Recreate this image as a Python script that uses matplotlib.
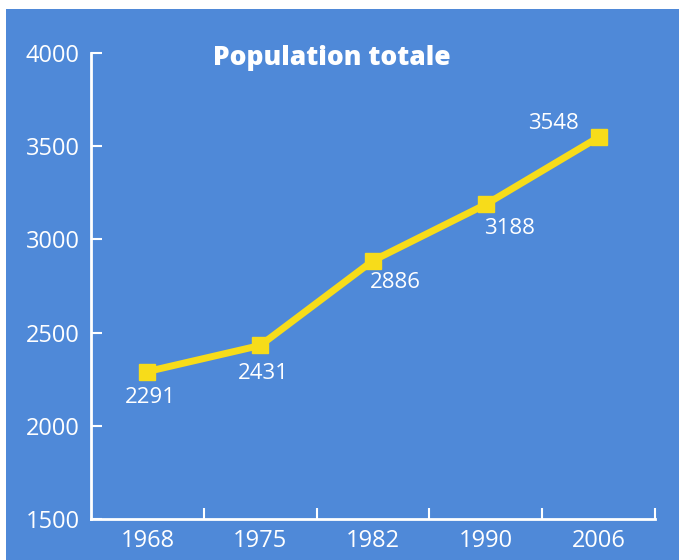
import matplotlib.pyplot as plt
from matplotlib.patches import Rectangle

years = ["1968", "1975", "1982", "1990", "2006"]
population = [2291, 2431, 2886, 3188, 3548]
yticks = [1500, 2000, 2500, 3000, 3500, 4000]
# label offsets in pixels from each marker
label_offsets = [(3, -26), (3, -28), (22, -22), (24, -24), (-45, 14)]

blue = "#4f89d8"
yellow = "#f7dc1a"

fig = plt.figure(figsize=(6.79, 5.6), dpi=100, facecolor="white")
fig.patches.append(Rectangle((6 / 679, 0), 1, 1 - 9 / 560, transform=fig.transFigure,
                             facecolor=blue, edgecolor="none", zorder=-10))

ax = fig.add_axes([91 / 679, 1 - 519 / 560, (655 - 91) / 679, (519 - 53) / 560])
ax.set_facecolor("none")

x = list(range(len(years)))
ax.plot(x, population, color=yellow, lw=5, marker="s", ms=11, solid_joinstyle="miter", zorder=3)

for xi, v, (dx, dy) in zip(x, population, label_offsets):
    ax.annotate(str(v), (xi, v), xytext=(dx, dy), textcoords="offset pixels",
                ha="center", va="center", color="white", fontsize=16, family="Open Sans")

ax.set_xlim(-0.5, len(years) - 0.5)
ax.set_ylim(1500, 4000)

for s in ["top", "right"]:
    ax.spines[s].set_visible(False)
for s in ["left", "bottom"]:
    ax.spines[s].set_color("white")
    ax.spines[s].set_linewidth(2)

ax.set_yticks(yticks)
ax.set_yticklabels([str(t) for t in yticks])
ax.tick_params(axis="y", direction="in", length=8, width=1.5, color="white",
               labelcolor="white", labelsize=17, pad=8)

# ticks between categories, labels centered on categories
ax.set_xticks([i + 0.5 for i in x])
ax.set_xticklabels([])
ax.set_xticks(x, minor=True)
ax.set_xticklabels(years, minor=True)
ax.tick_params(axis="x", which="major", direction="in", length=8, width=1.5, color="white")
ax.tick_params(axis="x", which="minor", length=0, labelcolor="white", labelsize=17, pad=7)

for lab in ax.get_yticklabels() + ax.get_xticklabels(minor=True):
    lab.set_family("Open Sans")

ax.text(0.427, 0.99, "Population totale", transform=ax.transAxes, ha="center", va="center",
        color="white", fontsize=19, fontweight="heavy", family="Open Sans")

fig.savefig("out.png", dpi=100, facecolor="white")
